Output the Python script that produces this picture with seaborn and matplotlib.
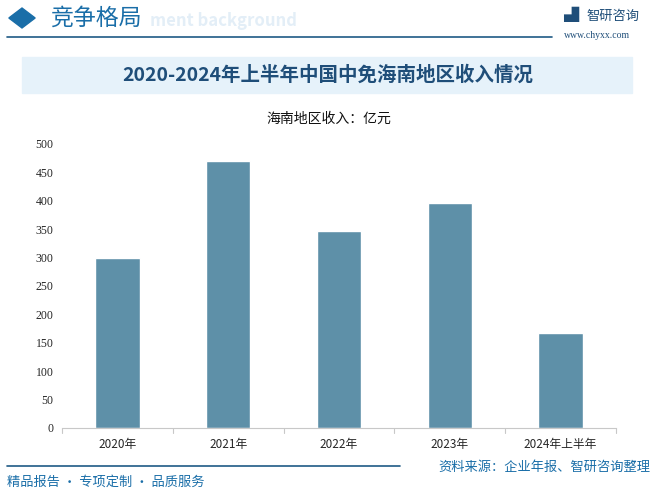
import matplotlib.pyplot as plt
import seaborn as sns
import pandas as pd
from matplotlib.patches import Rectangle, RegularPolygon
from matplotlib.lines import Line2D

years = ['2020年', '2021年', '2022年', '2023年', '2024年上半年']
income = [300, 470, 347, 396, 167]
yticks = [0, 50, 100, 150, 200, 250, 300, 350, 400, 450, 500]

sns.set_style('white')
plt.rcParams['font.family'] = ['Noto Sans CJK SC', 'DejaVu Sans']

W, H = 658, 499
fig = plt.figure(figsize=(W / 100, H / 100), dpi=100)

def fx(x):
    return x / W

def fy(y):
    return 1 - y / H

# header
fig.patches.append(RegularPolygon((fx(22), fy(18)), 4, radius=0.02, orientation=0,
                                  transform=fig.transFigure, color='#1a6ea8'))
fig.text(fx(50), fy(18), '竞争格局', fontsize=16.5, color='#1a6ea8', va='center', ha='left')
fig.text(fx(150), fy(21), 'ment background', fontsize=12, color='#e3eef7',
         va='center', ha='left', fontweight='bold', zorder=0)
fig.lines.append(Line2D([fx(7), fx(552)], [fy(37), fy(37)], transform=fig.transFigure,
                        color='#1f5a85', lw=1.2))
fig.text(fx(586), fy(16), '智研咨询', fontsize=9.5, color='#1f4e79', va='center', ha='left')
fig.text(fx(563), fy(16), '▟', fontsize=11, color='#1f4e79', va='center', ha='left')
fig.text(fx(564), fy(36), 'www.chyxx.com', fontsize=7, color='#1f4e79', va='center', ha='left',
         family=['Liberation Serif', 'DejaVu Serif'])

# title box
fig.patches.append(Rectangle((fx(22), fy(93)), fx(632 - 22), 36 / H, transform=fig.transFigure,
                             color='#e6f2fa', zorder=0))
fig.text(fx(328), fy(75), '2020-2024年上半年中国中免海南地区收入情况', fontsize=14,
         fontweight='bold', color='#1f4e79', ha='center', va='center')
fig.text(fx(329), fy(119), '海南地区收入：亿元', fontsize=10, color='#111111',
         ha='center', va='center')

# chart
ax = fig.add_axes([fx(62), fy(428), fx(616 - 62), (428 - 144) / H])
df = pd.DataFrame({'year': years, 'income': income})
sns.barplot(data=df, x='year', y='income', color='#5e90a8', saturation=1, width=0.4, ax=ax)
ax.set_ylim(0, 500)
ax.set_yticks(yticks)
ax.set_xlim(-0.5, len(years) - 0.5)
ax.set_xlabel('')
ax.set_ylabel('')
for s in ['top', 'right', 'left']:
    ax.spines[s].set_visible(False)
ax.spines['bottom'].set_color('#c8c8c8')
ax.tick_params(axis='y', length=0, labelsize=8.5, pad=6)
ax.tick_params(axis='x', length=0, labelsize=8.5, pad=7)
for lab in ax.get_yticklabels():
    lab.set_family(['Liberation Serif', 'DejaVu Serif'])
for b in [i + 0.5 for i in range(-1, len(years))]:
    ax.plot([b, b], [0, -8], color='#c8c8c8', lw=0.8, clip_on=False)

# footer
fig.lines.append(Line2D([fx(7), fx(400)], [fy(466), fy(466)], transform=fig.transFigure,
                        color='#1f5a85', lw=1.2))
fig.text(fx(7), fy(482), '精品报告 · 专项定制 · 品质服务', fontsize=9.5, color='#1a6ea8',
         ha='left', va='center')
fig.text(fx(650), fy(467), '资料来源：企业年报、智研咨询整理', fontsize=9.5, color='#1a6ea8',
         ha='right', va='center')

fig.savefig('out.png', dpi=100)
